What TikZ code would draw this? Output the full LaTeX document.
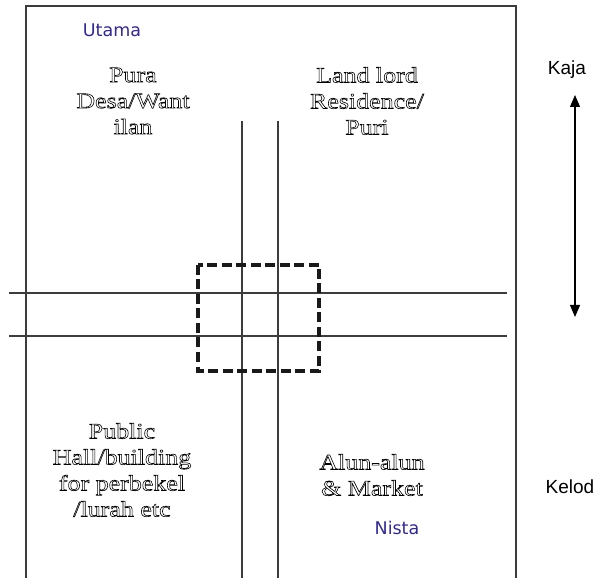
\documentclass[tikz,border=0pt]{standalone}
\usepackage{fontspec}
\setmainfont{Liberation Serif}
\newfontfamily\wideserif[FakeStretch=1.18]{Liberation Serif}
\newfontfamily\tahoma{DejaVu Sans}
\newfontfamily\arialf{Liberation Sans}
\usetikzlibrary{arrows.meta}
\definecolor{zoneblue}{RGB}{48,40,150}
\definecolor{roadgray}{RGB}{60,60,60}
\newcommand{\outl}[1]{\special{pdf:literal direct 1 Tr 0.6 w}#1\special{pdf:literal direct 0 Tr}}
\tikzset{
  road/.style={draw=roadgray, line width=1.1pt},
  dashbox/.style={draw=black!90, line width=3.2pt, dash pattern=on 10pt off 4.5pt},
  place/.style={align=center, font=\wideserif\fontsize{22}{26}\selectfont, inner sep=0pt},
  zone/.style={text=zoneblue, font=\tahoma\fontsize{17.5}{20}\selectfont, inner sep=0pt},
  dir/.style={font=\arialf\fontsize{19}{22}\selectfont, inner sep=0pt},
}
\begin{document}
\begin{tikzpicture}[x=1pt,y=-1pt]
\useasboundingbox (0,0) rectangle (603,580);
% frame
\draw[road] (26,578) -- (26,6) -- (516,6) -- (516,578);
% roads
\draw[road] (242,121) -- (242,578);
\draw[road] (278,121) -- (278,578);
\draw[road] (9,293) -- (507,293);
\draw[road] (9,336) -- (507,336);
% centre
\draw[dashbox] (198,265) rectangle (319,371);
% texts
\node[zone] (utama) at (112,30) {Utama};
\node[zone] (nista) at (397,528) {Nista};
\node[place] (pura) at (133,101) {\outl{Pura}\\\outl{Desa/Want}\\\outl{ilan}};
\node[place] (puri) at (367,101) {\outl{Land lord}\\\outl{Residence/}\\\outl{Puri}};
\node[place] (hall) at (122,470) {\outl{Public}\\\outl{Hall/building}\\\outl{for perbekel}\\\outl{/lurah etc}};
\node[place] (alun) at (372,475) {\outl{Alun-alun}\\\outl{\& Market}};
\node[dir] (kaja) at (567,70) {Kaja};
\node[dir] (kelod) at (570,487) {Kelod};
% arrow
\coordinate (atop) at (575,95);
\coordinate (abot) at (575,317);
\draw[line width=1.1pt, {Triangle[width=10pt,length=12pt]}-{Triangle[width=10pt,length=12pt]}] (atop) -- (abot);
\end{tikzpicture}
\end{document}
